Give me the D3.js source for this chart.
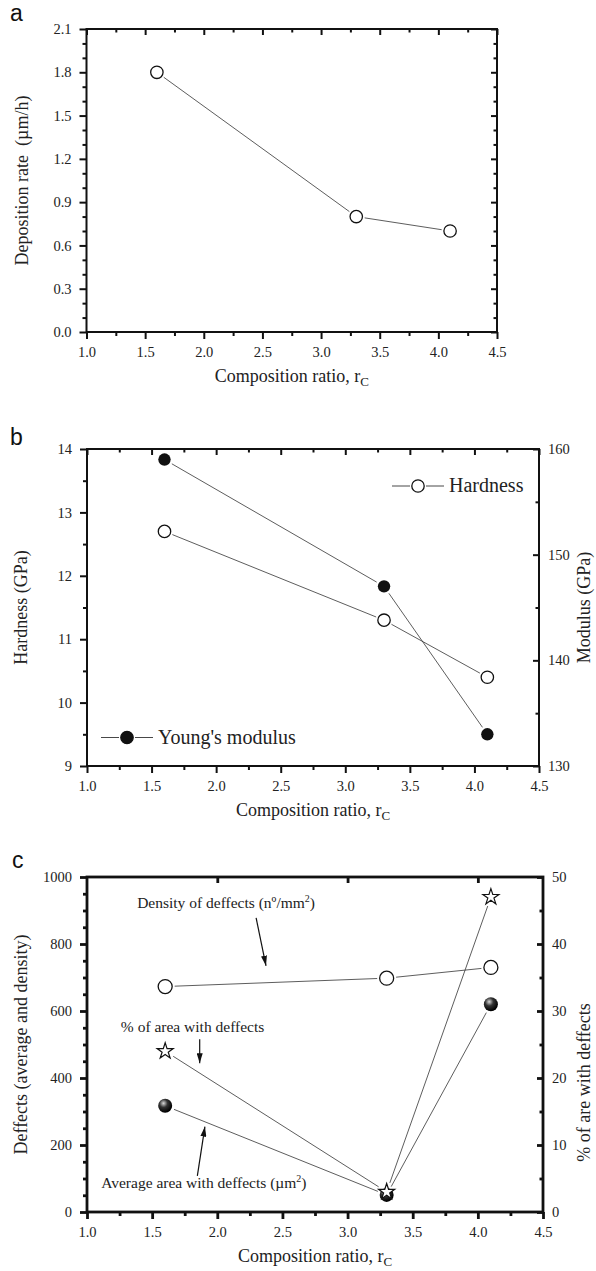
<!DOCTYPE html>
<html>
<head>
<meta charset="utf-8">
<script src="https://cdn.jsdelivr.net/npm/d3@7"></script>
<style>
  body { margin: 0; background: #fff; }
  text { font-family: "Liberation Serif", "Times New Roman", serif; fill: #222; }
  text.panel { font-family: "Liberation Sans", Arial, sans-serif; fill: #111; }
</style>
</head>
<body>
<svg id="fig" width="596" height="1271"></svg>
<script>
/* DATA */
const rcA = [1.6, 3.3, 4.1];
const depositionRate = [1.8, 0.8, 0.7];

const rcB = [1.6, 3.3, 4.1];
const hardness = [12.7, 11.3, 10.4];
const youngModulus = [159.0, 147.0, 133.0];

const rcC = [1.6, 3.3, 4.1];
const defectDensity = [673, 698, 730];
const avgDefectArea = [317, 51, 620];
const pctAreaDefects = [24, 3, 47];

const xMajor = [1.0, 1.5, 2.0, 2.5, 3.0, 3.5, 4.0, 4.5];
const xMinor = [1.25, 1.75, 2.25, 2.75, 3.25, 3.75, 4.25];
const xTopC = [2.0, 3.0, 4.0];
const yMajorA = [0.0, 0.3, 0.6, 0.9, 1.2, 1.5, 1.8, 2.1];
const yMajorB = [9, 10, 11, 12, 13, 14];
const y2MajorB = [130, 140, 150, 160];
const yMajorC = [0, 200, 400, 600, 800, 1000];
const y2MajorC = [0, 10, 20, 30, 40, 50];

const svg = d3.select("#fig");
const defs = svg.append("defs");

const grad = defs.append("radialGradient").attr("id", "ball")
  .attr("cx", "38%").attr("cy", "32%").attr("r", "65%");
grad.append("stop").attr("offset", "0%").attr("stop-color", "#d8d8d8");
grad.append("stop").attr("offset", "45%").attr("stop-color", "#333");
grad.append("stop").attr("offset", "100%").attr("stop-color", "#000");

defs.append("marker").attr("id", "arrow")
  .attr("viewBox", "0 0 10 6").attr("refX", 10).attr("refY", 3)
  .attr("markerWidth", 10).attr("markerHeight", 6)
  .attr("markerUnits", "userSpaceOnUse").attr("orient", "auto")
  .append("path").attr("d", "M0,0 L10,3 L0,6 Z").attr("fill", "#111");

const range = (a, b, s) => d3.range(a, b + s / 2, s).map(v => +v.toFixed(3));

/* AXES / FRAME */
function frame(box, x, y, y2, o) {
  const g = svg.append("g");
  const sw = o.sw;
  function ax(gen, tr, vals, size, fmt, pad) {
    const a = g.append("g").attr("transform", tr)
      .call(gen.tickValues(vals).tickSize(size).tickPadding(pad || 0).tickFormat(fmt || (() => "")));
    a.attr("font-size", 14.5);
    a.select(".domain").remove();
    a.selectAll("line").attr("stroke", "#111").attr("stroke-width", sw);
    a.selectAll("text").attr("fill", null);
    return a;
  }
  const W = box.right - box.left, H = box.bottom - box.top;
  // bottom
  ax(d3.axisBottom(x), `translate(0,${box.bottom})`, xMajor, 7, d3.format(".1f"), 7.5);
  ax(d3.axisBottom(x), `translate(0,${box.bottom})`, xMinor, 4);
  // top (inward)
  ax(d3.axisTop(x), `translate(0,${box.top})`, o.xTop || xMajor, -6);
  if (o.xTopMinor !== false) ax(d3.axisTop(x), `translate(0,${box.top})`, xMinor, -3.5);
  // left
  ax(d3.axisLeft(y), `translate(${box.left},0)`, o.yMajor, 7, o.yFmt, 8);
  ax(d3.axisLeft(y), `translate(${box.left},0)`, o.yMinor, 4);
  // right
  if (y2) {
    ax(d3.axisRight(y2), `translate(${box.right},0)`, o.y2Major, -6, d3.format("d"), 9);
    ax(d3.axisRight(y2), `translate(${box.right},0)`, o.y2Minor, -3.5);
  } else {
    ax(d3.axisRight(y), `translate(${box.right},0)`, o.yMajor, -6);
    ax(d3.axisRight(y), `translate(${box.right},0)`, o.yMinor, -3.5);
  }
  g.append("rect").attr("x", box.left).attr("y", box.top)
    .attr("width", W).attr("height", H)
    .attr("fill", "none").attr("stroke", "#111").attr("stroke-width", sw);

  // x title
  const xt = g.append("text").attr("x", (box.left + box.right) / 2).attr("y", box.bottom + 50)
    .attr("text-anchor", "middle").attr("font-size", 18);
  xt.append("tspan").text("Composition ratio, r");
  xt.append("tspan").attr("dy", 4).attr("font-size", 13).text("C");

  // y titles
  g.append("text").attr("transform", `translate(${o.yTitleX},${(box.top + box.bottom) / 2 + (o.yTitleShift || 0)}) rotate(-90)`)
    .attr("text-anchor", "middle").attr("font-size", 18).style("white-space", "pre")
    .text(o.yTitle);
  if (o.y2Title) {
    g.append("text").attr("transform", `translate(${o.y2TitleX},${(box.top + box.bottom) / 2 + (o.y2TitleShift || 0)}) rotate(-90)`)
      .attr("text-anchor", "middle").attr("font-size", 18).text(o.y2Title);
  }
  g.append("text").attr("class", "panel").attr("x", o.lab[1]).attr("y", o.lab[2])
    .attr("font-size", 23).text(o.lab[0]);
  return g;
}

function connect(g, pts, gap) {
  for (let i = 0; i < pts.length - 1; i++) {
    const [x1, y1] = pts[i], [x2, y2] = pts[i + 1];
    const L = Math.hypot(x2 - x1, y2 - y1), ux = (x2 - x1) / L, uy = (y2 - y1) / L;
    g.append("line")
      .attr("x1", x1 + ux * gap).attr("y1", y1 + uy * gap)
      .attr("x2", x2 - ux * gap).attr("y2", y2 - uy * gap)
      .attr("stroke", "#333").attr("stroke-width", 0.8);
  }
}

/* PANEL A */
{
  const box = { left: 86.5, right: 497, top: 29, bottom: 332 };
  const x = d3.scaleLinear().domain([1.0, 4.5]).range([box.left, box.right]);
  const y = d3.scaleLinear().domain([0, 2.1]).range([box.bottom, box.top]);
  frame(box, x, y, null, {
    sw: 2, yMajor: yMajorA, yMinor: range(0, 2.1, 0.1).filter(v => !yMajorA.includes(v)),
    yFmt: d3.format(".1f"), yTitle: "Deposition rate  (\u00b5m/h)", yTitleX: 28,
    lab: ["a", 10, 21]
  });
  const g = svg.append("g");
  const pts = rcA.map((v, i) => [x(v), y(depositionRate[i])]);
  connect(g, pts, 8.5);
  g.selectAll("circle").data(pts).join("circle")
    .attr("cx", d => d[0]).attr("cy", d => d[1]).attr("r", 6.2)
    .attr("fill", "#fff").attr("stroke", "#111").attr("stroke-width", 1.3);
}

/* PANEL B */
{
  const box = { left: 87, right: 539, top: 449, bottom: 766 };
  const x = d3.scaleLinear().domain([1.0, 4.5]).range([box.left, box.right]);
  const y = d3.scaleLinear().domain([9, 14]).range([box.bottom, box.top]);
  const y2 = d3.scaleLinear().domain([130, 160]).range([box.bottom, box.top]);
  frame(box, x, y, y2, {
    sw: 2, yMajor: yMajorB, yMinor: range(9.5, 13.5, 1), yFmt: d3.format("d"),
    y2Major: y2MajorB, y2Minor: [135, 145, 155],
    yTitle: "Hardness (GPa)", yTitleX: 27, y2Title: "Modulus (GPa)", y2TitleX: 590,
    lab: ["b", 10, 445]
  });
  const g = svg.append("g");
  const ph = rcB.map((v, i) => [x(v), y(hardness[i])]);
  const pm = rcB.map((v, i) => [x(v), y2(youngModulus[i])]);
  connect(g, ph, 8.5);
  connect(g, pm, 8.5);
  g.selectAll("circle.m").data(pm).join("circle").attr("class", "m")
    .attr("cx", d => d[0]).attr("cy", d => d[1]).attr("r", 6.2).attr("fill", "#111");
  g.selectAll("circle.h").data(ph).join("circle").attr("class", "h")
    .attr("cx", d => d[0]).attr("cy", d => d[1]).attr("r", 6.2)
    .attr("fill", "#fff").attr("stroke", "#111").attr("stroke-width", 1.3);

  // legends
  function legend(lx, ly, filled, label) {
    const lg = svg.append("g").attr("transform", `translate(${lx},${ly})`);
    lg.append("line").attr("x1", 0).attr("x2", 18).attr("stroke", "#333").attr("stroke-width", 0.9);
    lg.append("line").attr("x1", 34).attr("x2", 52).attr("stroke", "#333").attr("stroke-width", 0.9);
    lg.append("circle").attr("cx", 26).attr("r", 6.2)
      .attr("fill", filled ? "#111" : "#fff").attr("stroke", "#111").attr("stroke-width", 1.3);
    lg.append("text").attr("x", 57).attr("dy", "0.32em").attr("font-size", 20).text(label);
  }
  legend(box.right - 147, box.top + 37, false, "Hardness");
  legend(box.left + 14, box.bottom - 28.5, true, "Young's modulus");
}

/* PANEL C */
{
  const box = { left: 87, right: 543, top: 877, bottom: 1212 };
  const x = d3.scaleLinear().domain([1.0, 4.5]).range([box.left, box.right]);
  const y = d3.scaleLinear().domain([0, 1000]).range([box.bottom, box.top]);
  const y2 = d3.scaleLinear().domain([0, 50]).range([box.bottom, box.top]);
  frame(box, x, y, y2, {
    sw: 2.8, yMajor: yMajorC, yMinor: range(50, 950, 50).filter(v => !yMajorC.includes(v)),
    yFmt: d3.format("d"), xTop: xTopC, xTopMinor: false,
    y2Major: y2MajorC, y2Minor: range(5, 45, 10),
    yTitle: "Deffects (average and density)", yTitleX: 27,
    y2Title: "% of are with deffects", y2TitleX: 590, y2TitleShift: 38,
    lab: ["c", 12, 868]
  });
  const g = svg.append("g");
  const pd = rcC.map((v, i) => [x(v), y(defectDensity[i])]);
  const pa = rcC.map((v, i) => [x(v), y(avgDefectArea[i])]);
  const pp = rcC.map((v, i) => [x(v), y2(pctAreaDefects[i])]);
  connect(g, pd, 9.5);
  connect(g, pa, 9.5);
  connect(g, pp, 9.5);
  g.selectAll("circle.a").data(pa).join("circle").attr("class", "a")
    .attr("cx", d => d[0]).attr("cy", d => d[1]).attr("r", 7).attr("fill", "url(#ball)");
  g.selectAll("circle.d").data(pd).join("circle").attr("class", "d")
    .attr("cx", d => d[0]).attr("cy", d => d[1]).attr("r", 7)
    .attr("fill", "#fff").attr("stroke", "#111").attr("stroke-width", 1.3);
  const star = d3.symbol().type(d3.symbolStar).size(80);
  g.selectAll("path.s").data(pp).join("path").attr("class", "s")
    .attr("transform", d => `translate(${d[0]},${d[1]})`).attr("d", star)
    .attr("fill", "#fff").attr("stroke", "#111").attr("stroke-width", 1.2);

  // annotations (data coordinates)
  function note(tx, ty, parts, a0, a1) {
    const t = svg.append("text").attr("x", x(tx)).attr("y", y(ty)).attr("font-size", 15.5);
    parts.forEach(p => {
      const s = t.append("tspan").text(p.t);
      if (p.sup) s.attr("font-size", 10).attr("dy", -6);
      if (p.down) s.attr("dy", 6);
    });
    svg.append("line").attr("x1", x(a0[0])).attr("y1", y(a0[1]))
      .attr("x2", x(a1[0])).attr("y2", y(a1[1]))
      .attr("stroke", "#111").attr("stroke-width", 1.2).attr("marker-end", "url(#arrow)");
  }
  note(1.385, 907, [{ t: "Density of deffects (n\u00ba/mm" }, { t: "2", sup: true }, { t: ")", down: true }],
    [2.298, 878], [2.374, 735]);
  note(1.26, 538, [{ t: "% of area with deffects" }], [1.865, 516], [1.865, 444]);
  note(1.109, 72, [{ t: "Average area with deffects (\u00b5m" }, { t: "2", sup: true }, { t: ")", down: true }],
    [1.847, 108], [1.905, 255]);
}
</script>
</body>
</html>
